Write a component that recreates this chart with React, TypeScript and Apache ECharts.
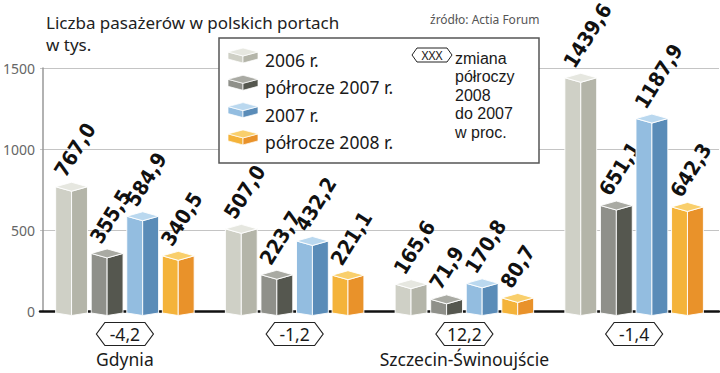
import React, { useEffect, useRef } from "react";
import * as echarts from "echarts";

// ---- data ----
const categories = ["Gdynia", "Gdańsk", "Szczecin-Świnoujście", "razem"];
const seriesNames = ["2006 r.", "półrocze 2007 r.", "2007 r.", "półrocze 2008 r."];
const year2006 = [767.0, 507.0, 165.6, 1439.6];
const half2007 = [355.5, 223.7, 71.9, 651.1];
const year2007 = [584.9, 432.2, 170.8, 1187.9];
const half2008 = [340.5, 221.1, 80.7, 642.3];
const changes = [-4.2, -1.2, 12.2, -1.4];
const yMin = 0;
const yMax = 1500;
const yInterval = 500;
const titleText = "Liczba pasażerów w polskich portach\nw tys.";
const sourceText = "źródło: Actia Forum";
const noteSymbol = "XXX";
const noteLines = ["zmiana", "półroczy", "2008", "do 2007", "w proc."];

// ---- styles ----
const palette = [
  { left: "#cfd0c6", right: "#b4b5a9", top: "#e6e7e0" },
  { left: "#8f908a", right: "#55574f", top: "#a9aaa3" },
  { left: "#93bde0", right: "#5a8cb8", top: "#bad8ef" },
  { left: "#f4b33a", right: "#e9922a", top: "#f9cf6c" },
];
const FONT = '"Noto Sans", "Open Sans", sans-serif';
const NOTE_FONT = '"Liberation Sans", Arial, sans-serif';
const BOLD_FONT = 'bold 20.5px "DejaVu Sans Condensed", "DejaVu Sans", sans-serif';

const fmt = (v: number) => v.toFixed(1).replace(".", ",");

function boxFaces(x0: number, x1: number, yT: number, yB: number, d: number, dB: number, c: any, lw: number) {
  const cx = (x0 + x1) / 2;
  const stroke = "rgba(255,255,255,0.9)";
  return [
    {
      type: "polygon",
      shape: { points: [[x0, yT], [cx, yT + d], [cx, yB + dB], [x0, yB]] },
      style: { fill: c.left, stroke, lineWidth: lw },
    },
    {
      type: "polygon",
      shape: { points: [[cx, yT + d], [x1, yT], [x1, yB], [cx, yB + dB]] },
      style: { fill: c.right, stroke, lineWidth: lw },
    },
    {
      type: "polygon",
      shape: { points: [[x0, yT], [cx, yT - d], [x1, yT], [cx, yT + d]] },
      style: { fill: c.top, stroke, lineWidth: lw },
    },
  ];
}

function makeBarRenderer(k: number) {
  return (params: any, api: any) => {
    const cat = api.value(0);
    const val = api.value(1);
    const top = api.coord([cat, val]);
    const base = api.coord([cat, 0]);
    const catW = api.size([1, 0])[0];
    const pitch = catW * 0.2095;
    const bw = catW * 0.1875;
    const cx = top[0] + (k - 1.5) * pitch;
    const x0 = cx - bw / 2;
    const x1 = cx + bw / 2;
    const yT = top[1];
    const yB = base[1] + 2;
    const children: any[] = boxFaces(x0, x1, yT, yB, 4.5, 2.5, palette[k], 1);
    children.push({
      type: "text",
      x: x0 + 4,
      y: yT - 12,
      rotation: (58 * Math.PI) / 180,
      style: {
        text: fmt(val),
        font: BOLD_FONT,
        fill: "#111",
        align: "left",
        verticalAlign: "middle",
      },
    });
    return { type: "group", children };
  };
}

function hexPoints(cx: number, cy: number, hw: number, inner: number, hh: number) {
  return [
    [cx - hw, cy],
    [cx - inner, cy - hh],
    [cx + inner, cy - hh],
    [cx + hw, cy],
    [cx + inner, cy + hh],
    [cx - inner, cy + hh],
  ];
}

function badgeRenderer(params: any, api: any) {
  const cat = api.value(0);
  const change = api.value(2);
  const p = api.coord([cat, 0]);
  const cx = p[0];
  const cy = p[1] + 23;
  return {
    type: "group",
    children: [
      {
        type: "polygon",
        shape: { points: hexPoints(cx, cy, 28.5, 20, 11.5) },
        style: { fill: "#fff", stroke: "#222", lineWidth: 1.2 },
      },
      {
        type: "text",
        x: cx,
        y: cy,
        style: {
          text: fmt(change),
          fontSize: 17.5,
          fontFamily: FONT,
          fill: "#1a1a1a",
          align: "center",
          verticalAlign: "middle",
        },
      },
    ],
  };
}

function legendGraphics() {
  const els: any[] = [];
  els.push({
    type: "rect",
    shape: { x: 219, y: 38, width: 320, height: 125 },
    style: { fill: "#fff", stroke: "#555", lineWidth: 1.5 },
    z: 10,
  });
  seriesNames.forEach((name, i) => {
    const yc = 55.5 + i * 27.3;
    const faces = boxFaces(228, 258, yc - 3.5, yc + 3.5, 4, 4, palette[i], 0.8);
    faces.forEach((f: any) => els.push({ ...f, z: 11 }));
    els.push({
      type: "text",
      x: 265,
      y: yc + 4.5,
      z: 11,
      style: {
        text: name,
        fontSize: 17.5,
        fontFamily: FONT,
        fill: "#1a1a1a",
        verticalAlign: "middle",
      },
    });
  });
  els.push({
    type: "polygon",
    z: 11,
    shape: { points: hexPoints(432, 55, 20, 15, 7) },
    style: { fill: "#fff", stroke: "#222", lineWidth: 1 },
  });
  els.push({
    type: "text",
    x: 432,
    y: 55,
    z: 11,
    style: { text: noteSymbol, fontSize: 12, fontFamily: FONT, fill: "#1a1a1a", align: "center", verticalAlign: "middle" },
  });
  noteLines.forEach((line, i) => {
    els.push({
      type: "text",
      x: 455,
      y: 58 + i * 18.6,
      z: 11,
      style: { text: line, fontSize: 16, fontFamily: NOTE_FONT, fill: "#1a1a1a", verticalAlign: "middle" },
    });
  });
  els.push({
    type: "text",
    x: 430,
    y: 13,
    z: 11,
    style: { text: sourceText, fontSize: 12, fontFamily: FONT, fill: "#555", verticalAlign: "top" },
  });
  return els;
}

export default function App() {
  const ref = useRef<HTMLDivElement>(null);
  useEffect(() => {
    document.body.style.margin = "0";
    if (!ref.current) return;
    const chart = echarts.init(ref.current, null, { renderer: "svg" });
    const seriesData = [year2006, half2007, year2007, half2008];
    const option: any = {
      animation: false,
      backgroundColor: "#fff",
      title: {
        text: titleText,
        left: 41,
        top: 6,
        textStyle: { fontSize: 17, fontWeight: "normal", fontFamily: FONT, color: "#222", lineHeight: 22 },
      },
      grid: { left: 37, right: 1, top: 68, bottom: 62, containLabel: false },
      xAxis: {
        type: "category",
        data: categories,
        axisLine: { lineStyle: { color: "#111", width: 2.5 } },
        axisTick: { show: false },
        axisLabel: { margin: 39, fontSize: 17.5, fontFamily: FONT, color: "#1a1a1a" },
        splitLine: { show: false },
      },
      yAxis: {
        type: "value",
        min: yMin,
        max: yMax,
        interval: yInterval,
        offset: -3,
        axisLine: { show: true, lineStyle: { color: "#999", width: 1.5 } },
        axisTick: { show: false },
        axisLabel: { margin: 8, fontSize: 14, fontFamily: FONT, color: "#666", formatter: (v: number) => String(v) },
        splitLine: { lineStyle: { color: "#c4c4c4", width: 1 } },
      },
      graphic: legendGraphics(),
      series: [
        ...seriesData.map((vals, k) => ({
          type: "custom",
          name: seriesNames[k],
          renderItem: makeBarRenderer(k),
          encode: { x: 0, y: 1 },
          data: vals.map((v, i) => [i, v]),
          z: 3,
        })),
        {
          type: "custom",
          name: "zmiana",
          renderItem: badgeRenderer,
          encode: { x: 0, y: 1 },
          data: changes.map((c, i) => [i, 0, c]),
          z: 4,
        },
      ],
    };
    chart.setOption(option);
    return () => chart.dispose();
  }, []);
  return <div ref={ref} style={{ width: 720, height: 373 }} />;
}
